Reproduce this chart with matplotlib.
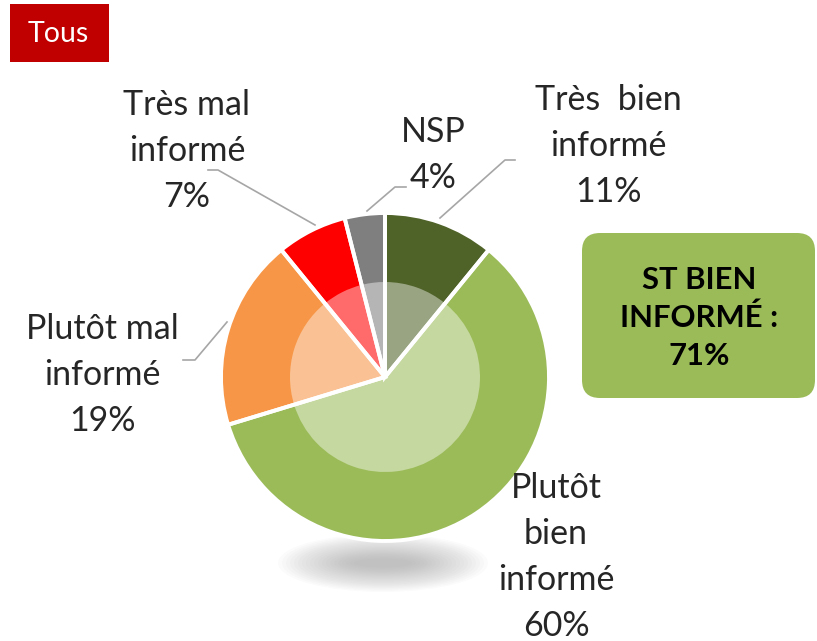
import matplotlib
matplotlib.use("Agg")
import matplotlib.pyplot as plt
from matplotlib.patches import FancyBboxPatch, Ellipse, Rectangle
from matplotlib.colors import to_rgb

plt.rcParams['font.family'] = ['Lato', 'DejaVu Sans']

# ---- data ----
categories = ["Très  bien\ninformé", "Plutôt\nbien\ninformé", "Plutôt mal\ninformé",
              "Très mal\ninformé", "NSP"]
values = [11, 60, 19, 7, 4]
colors = ["#4F6228", "#9BBB59", "#F79646", "#FF0000", "#7F7F7F"]
summary_label = "ST BIEN\nINFORMÉ :"
summary_value = 71
title_tag = "Tous"

W, H = 817, 641
fig = plt.figure(figsize=(W / 100, H / 100), dpi=100)
ax = fig.add_axes([0, 0, 1, 1])


def Y(y):
    return H - y


cx, cy = 385, 377
R_out, R_in = 164, 95

# shadow
n = 20
for i in range(n):
    f = 1 - i / n
    ax.add_patch(Ellipse((383, Y(563)), 160 * f + 50, 52 * f + 6,
                         facecolor='#8a8a8a', edgecolor='none', alpha=0.03, zorder=1))

ax.pie(values, colors=colors, startangle=90, counterclock=False,
       center=(cx, Y(cy)), radius=R_out, frame=True,
       wedgeprops=dict(edgecolor='none', linewidth=0, zorder=3))


def lighten(c, a=0.42):
    r, g, b = to_rgb(c)
    return (r + (1 - r) * a, g + (1 - g) * a, b + (1 - b) * a)


light = [lighten(c) for c in colors]
ax.pie(values, colors=light, startangle=90, counterclock=False,
       center=(cx, Y(cy)), radius=R_in, frame=True,
       wedgeprops=dict(edgecolor='none', linewidth=0, zorder=4))
# white separators between slices
ax.pie(values, colors=['none'] * len(values), startangle=90, counterclock=False,
       center=(cx, Y(cy)), radius=R_out, frame=True,
       wedgeprops=dict(edgecolor='white', linewidth=2.8, zorder=5, fill=False))

ax.set_xlim(0, W)
ax.set_ylim(0, H)
ax.set_aspect('equal')
ax.axis('off')

txt_color = '#262626'
fs = 24.5
label_pos = [(608, 146), (556, 557), (102, 375), (187, 151), (433, 155)]
for cat, v, (x, y) in zip(categories, values, label_pos):
    ax.text(x, Y(y), f"{cat}\n{v}%", ha='center', va='center', fontsize=fs,
            color=txt_color, linespacing=1.55, zorder=6)

# leader lines
lc = '#A6A6A6'
leaders = [
    [(515, 160), (505, 160), (440, 218)],
    [(208, 170), (218, 170), (315, 225)],
    [(406, 187), (395, 187), (367, 211)],
    [(183, 360), (195, 360), (227, 322)],
]
for pts in leaders:
    ax.plot([p[0] for p in pts], [Y(p[1]) for p in pts], color=lc, lw=1.2, zorder=5)

# Tous tag
ax.add_patch(Rectangle((10, Y(62)), 99, 58, facecolor='#C00000', edgecolor='none'))
ax.text(58.5, Y(34), title_tag, ha='center', va='center', fontsize=20.5, color='white')

# summary box
ax.add_patch(FancyBboxPatch((582 + 18, Y(398) + 18), 233 - 36, 165 - 36,
                            boxstyle="round,pad=18", facecolor='#9BBB59',
                            edgecolor='none'))
ax.text(699, Y(318), f"{summary_label}\n{summary_value}%", ha='center', va='center',
        fontsize=22.3, fontweight='bold', color='black', linespacing=1.42)

fig.savefig("out.png", dpi=100)
